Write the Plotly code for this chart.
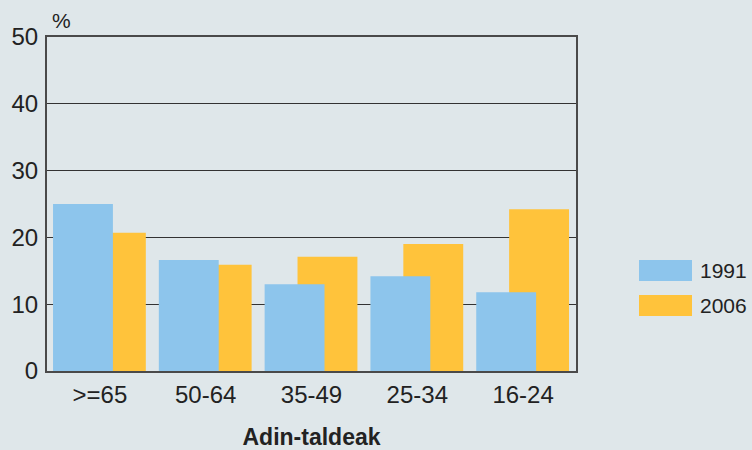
import plotly.graph_objects as go

categories = [">=65", "50-64", "35-49", "25-34", "16-24"]
values_1991 = [25.0, 16.6, 13.0, 14.2, 11.8]
values_2006 = [20.7, 15.9, 17.1, 19.0, 24.2]
series_names = ["1991", "2006"]
y_ticks = [0, 10, 20, 30, 40, 50]

BLUE = "#8dc5ec"
ORANGE = "#ffc33b"
BG = "#dfe7ea"
FONT = "Liberation Sans, Arial, sans-serif"

fig = go.Figure()
fig.add_trace(go.Bar(x=categories, y=values_2006, name=series_names[1],
                     marker=dict(color=ORANGE, line=dict(width=0)),
                     width=0.566, offset=-0.132, showlegend=False))
fig.add_trace(go.Bar(x=categories, y=values_1991, name=series_names[0],
                     marker=dict(color=BLUE, line=dict(width=0)),
                     width=0.566, offset=-0.443, showlegend=False))

# legend drawn as swatches in paper coordinates
L, R, T, B = 47, 576, 37, 371
def px(x): return (x - L) / (R - L)
def py(y): return (B - y) / (B - T)

for i, (name, col) in enumerate(zip(series_names, [BLUE, ORANGE])):
    y0 = 260 + i * 35
    fig.add_shape(type="rect", xref="paper", yref="paper",
                  x0=px(639), x1=px(692), y0=py(y0 + 21), y1=py(y0),
                  fillcolor=col, line=dict(width=0))
    fig.add_annotation(xref="paper", yref="paper", x=px(698), y=py(y0 + 10.5),
                       text=name, showarrow=False, xanchor="left", yanchor="middle",
                       font=dict(size=21, color="#222", family=FONT))

fig.add_annotation(xref="paper", yref="paper", x=px(50), y=py(20),
                   text="%", showarrow=False, xanchor="left", yanchor="middle",
                   font=dict(size=21, color="#222", family=FONT))

fig.update_layout(
    width=752, height=450,
    margin=dict(l=L, r=752 - R, t=T, b=450 - B),
    paper_bgcolor=BG, plot_bgcolor=BG,
    barmode="overlay",
    font=dict(family=FONT, size=24, color="#222"),
    xaxis=dict(type="category", range=[-0.5, 4.5], showgrid=False, automargin=False,
               showline=True, linecolor="#4a4a4a", linewidth=2, mirror=True,
               ticks="outside", ticklen=1, tickcolor="rgba(0,0,0,0)",
               tickfont=dict(size=24, color="#222"),
               title=dict(text="<b>Adin-taldeak</b>", font=dict(size=23, color="#222"), standoff=24)),
    yaxis=dict(range=[0, 50], tickvals=y_ticks, showgrid=True, gridcolor="#333", automargin=False,
               gridwidth=1, showline=True, linecolor="#4a4a4a", linewidth=2, mirror=True,
               ticks="outside", ticklen=2, tickcolor="rgba(0,0,0,0)",
               tickfont=dict(size=24, color="#222"), zeroline=False),
)

fig.write_html("out.html", config={"displayModeBar": False},
               post_script="document.body.style.margin='0';document.body.style.background='%s';" % BG)
